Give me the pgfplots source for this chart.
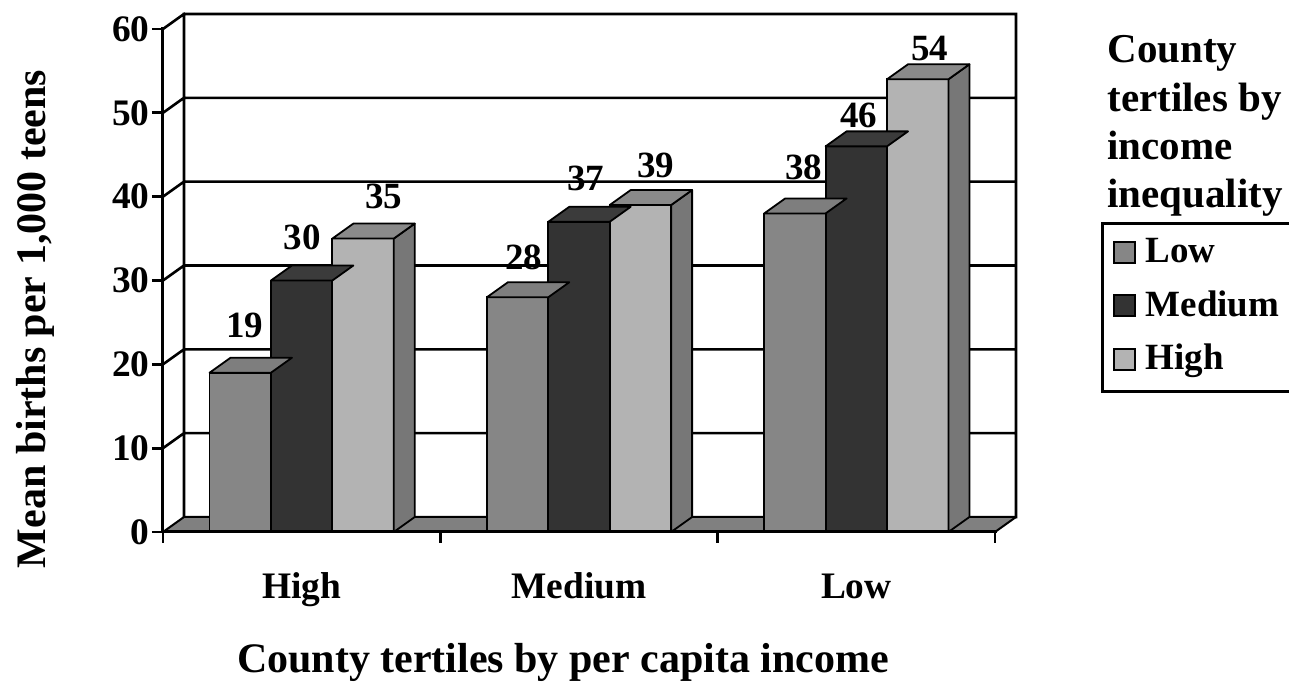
\documentclass[border=0pt]{standalone}
\usepackage{pgfplots}
\pgfplotsset{compat=1.18}
\usepackage{pgfplotstable}
\usepackage{fontspec}
\setmainfont{Liberation Serif}
\pgfdeclareplotmark{nothing}{}
\definecolor{lowc}{HTML}{868686}
\definecolor{lowtop}{HTML}{7E7E7E}
\definecolor{medc}{HTML}{333333}
\definecolor{medtop}{HTML}{3B3B3B}
\definecolor{highc}{HTML}{B3B3B3}
\definecolor{hightop}{HTML}{8A8A8A}
\definecolor{highside}{HTML}{777777}
\definecolor{floorc}{HTML}{808080}
\newcommand\BW{30.7pt}
\newcommand\DX{10.5pt}
\newcommand\DY{7.5pt}
\newcommand\YU{4.1917pt}
\pgfplotsset{
  bartop/.style={forget plot, only marks, scatter, mark=nothing,
    scatter/@pre marker code/.code={%
      \filldraw[fill=#1, draw=black, line width=0.9pt, line join=round]
        (-0.5*\BW,0pt) -- (0.5*\BW,0pt) -- (0.5*\BW+\DX,\DY) -- (-0.5*\BW+\DX,\DY) -- cycle;},
    scatter/@post marker code/.code={}},
  barside/.style={forget plot, only marks, scatter, mark=nothing,
    visualization depends on={rawy \as \hv},
    scatter/@pre marker code/.code={%
      \filldraw[fill=#1, draw=black, line width=0.9pt, line join=round]
        (0.5*\BW,0pt) -- (0.5*\BW+\DX,\DY) -- (0.5*\BW+\DX,\DY-\hv*\YU) -- (0.5*\BW,-\hv*\YU) -- cycle;},
    scatter/@post marker code/.code={}},
  frontbar/.style={ybar, bar width=0.2214, fill=#1, draw=black, line width=0.9pt,
    legend image code/.code={\draw[fill=#1, draw=black, line width=1pt] (0pt,0pt) rectangle (10.5pt,10.5pt);}},
}
\pgfplotstableread{
g low med high
0 19 30 35
1 28 37 39
2 38 46 54
}\data
\pgfplotstableread{
x y lab
-0.205 24.6 19
0.002 35.2 30
0.296 40.0 35
0.801 32.7 28
1.025 42.2 37
1.277 43.7 39
1.811 43.5 38
2.009 49.7 46
2.265 57.7 54
}\labs
\begin{document}
\begin{tikzpicture}
\begin{axis}[
  at={(0pt,0pt)}, anchor=south west,
  x=138.667pt, y=4.1917pt,
  xmin=-0.5, xmax=2.5757, ymin=0, ymax=61.79,
  enlargelimits=false, clip=false,
  axis x line*=bottom, axis y line*=left,
  axis line style={draw=none},
  tick align=outside,
  major tick length=5.5pt,
  tick style={black, line width=1.4pt},
  xtick={-0.5,0.5,1.5,2.5}, xticklabels={},
  extra x ticks={0,1,2}, extra x tick labels={High,Medium,Low},
  extra x tick style={major tick length=0pt},
  xticklabel style={anchor=base, inner sep=0pt, yshift=-33.5pt, font=\fontsize{18.7}{18.7}\selectfont\bfseries},
  ytick={0,10,...,60},
  yticklabel style={anchor=east, inner sep=0pt, xshift=-1pt, font=\fontsize{18.7}{18.7}\selectfont\bfseries},
  /pgf/number format/assume math mode=true,
  xlabel={County tertiles by per capita income},
  xlabel style={at={(axis description cs:0.469,-0.2703)}, anchor=base, inner sep=0pt, font=\fontsize{21}{21}\selectfont\bfseries},
  ylabel={Mean births per 1,000 teens},
  ylabel style={at={(axis description cs:-0.1383,0.4112)}, anchor=base, inner sep=0pt, font=\fontsize{21}{21}\selectfont\bfseries},
  legend style={at={(axis description cs:1.0996,0.5985)}, anchor=north west, draw=black, line width=1.3pt,
    inner xsep=5.25pt, inner ysep=6.75pt, font=\fontsize{18.5}{18.5}\selectfont\bfseries, row sep=9.75pt,
    cells={anchor=base west}, nodes={inner sep=0pt, text height=13pt, text depth=4pt},
    /tikz/every odd column/.append style={column sep=5pt}},
]
% back wall grid lines and edges
\addplot[forget plot, draw=black, line width=1.3pt, unbounded coords=jump, line cap=rect] coordinates {
 (-0.4243,11.79) (2.5757,11.79) (0,nan)
 (-0.4243,21.79) (2.5757,21.79) (0,nan)
 (-0.4243,31.79) (2.5757,31.79) (0,nan)
 (-0.4243,41.79) (2.5757,41.79) (0,nan)
 (-0.4243,51.79) (2.5757,51.79) (0,nan)
 (-0.4243,61.79) (2.5757,61.79) (0,nan)
 (-0.4243,1.79) (-0.4243,61.79) (0,nan)
 (2.5757,1.79) (2.5757,61.79) (0,nan)
 (-0.5,10) (-0.4243,11.79) (0,nan)
 (-0.5,20) (-0.4243,21.79) (0,nan)
 (-0.5,30) (-0.4243,31.79) (0,nan)
 (-0.5,40) (-0.4243,41.79) (0,nan)
 (-0.5,50) (-0.4243,51.79) (0,nan)
 (-0.5,60) (-0.4243,61.79)
};
% floor
\addplot[forget plot, fill=floorc, draw=black, line width=1pt, line join=round] coordinates {(-0.5,0) (2.5,0) (2.5757,1.79) (-0.4243,1.79)} -- cycle;
% Low series
\addplot[bartop=lowtop] table[x expr=\thisrow{g}-0.2214, y=low] {\data};
\addplot[frontbar=lowc, bar shift=-0.2214] table[x=g, y=low] {\data};
\addlegendentry{Low}
% Medium series
\addplot[bartop=medtop] table[x=g, y=med] {\data};
\addplot[frontbar=medc, bar shift=0] table[x=g, y=med] {\data};
\addlegendentry{Medium}
% High series
\addplot[barside=highside] table[x expr=\thisrow{g}+0.2214, y=high] {\data};
\addplot[bartop=hightop] table[x expr=\thisrow{g}+0.2214, y=high] {\data};
\addplot[frontbar=highc, bar shift=0.2214] table[x=g, y=high] {\data};
\addlegendentry{High}
% front axes
\addplot[forget plot, draw=black, line width=1.5pt, line cap=rect] coordinates {(-0.5,60) (-0.5,0) (2.5,0)};
% value labels
\addplot[forget plot, only marks, mark=nothing, nodes near coords, point meta=explicit symbolic,
  every node near coord/.append style={anchor=center, inner sep=0pt, font=\fontsize{18.5}{18.5}\selectfont\bfseries}]
  table[x=x, y=y, meta=lab] {\labs};
\end{axis}
\node[anchor=base west, inner sep=0pt, font=\fontsize{20.5}{20.5}\selectfont\bfseries] at (472pt,234.5pt) {County};
\node[anchor=base west, inner sep=0pt, font=\fontsize{20.5}{20.5}\selectfont\bfseries] at (472pt,210pt) {tertiles by};
\node[anchor=base west, inner sep=0pt, font=\fontsize{20.5}{20.5}\selectfont\bfseries] at (472pt,186pt) {income};
\node[anchor=base west, inner sep=0pt, font=\fontsize{20.5}{20.5}\selectfont\bfseries] at (472pt,162pt) {inequality};
\pgfresetboundingbox
\path[use as bounding box] (-81.5pt,-78.5pt) rectangle (563pt,266pt);
\end{tikzpicture}
\end{document}
